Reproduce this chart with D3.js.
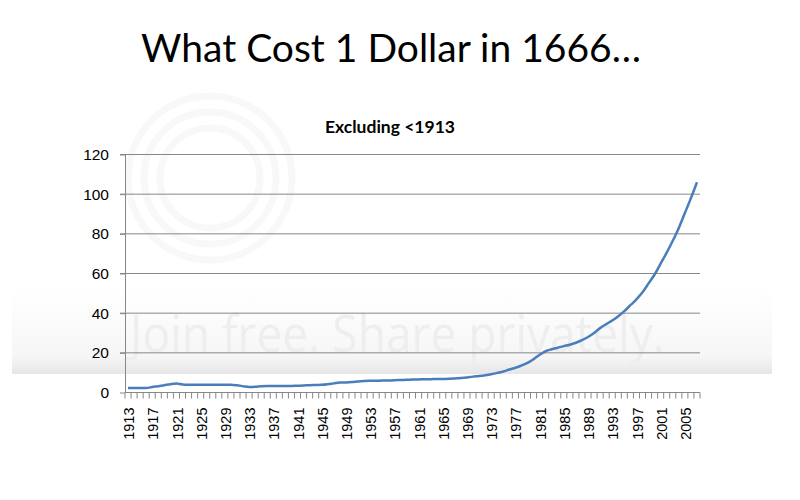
<!DOCTYPE html>
<html>
<head>
<meta charset="utf-8">
<script src="https://cdn.jsdelivr.net/npm/d3@7"></script>
<style>
  body { margin: 0; background: #ffffff; }
  svg { display: block; }
</style>
</head>
<body>
<svg id="chart" width="800" height="500"></svg>
<script>
// Chart data
var years = d3.range(1913, 2008);
var values = [
  2.3, 2.3, 2.3, 2.3, 2.8, 3.2, 3.7, 4.2, 4.5, 4.0,   // 1913-1922
  3.9, 3.9, 3.9, 3.9, 3.9, 3.9, 3.9, 3.9, 3.6, 3.2,   // 1923-1932
  2.8, 2.9, 3.2, 3.3, 3.3, 3.3, 3.3, 3.3, 3.4, 3.5,   // 1933-1942
  3.7, 3.8, 3.9, 4.2, 4.6, 5.0, 5.1, 5.3, 5.6, 5.8,   // 1943-1952
  5.9, 5.9, 6.0, 6.0, 6.2, 6.3, 6.4, 6.5, 6.6, 6.7,   // 1953-1962
  6.7, 6.8, 6.8, 6.9, 7.1, 7.3, 7.6, 8.0, 8.3, 8.7,   // 1963-1972
  9.2, 9.9, 10.6, 11.6, 12.5, 13.6, 14.9, 16.8, 19.0, 20.8, // 1973-1982
  21.8, 22.6, 23.4, 24.1, 25.1, 26.4, 28.0, 30.0, 32.5, 34.5, // 1983-1992
  36.3, 38.5, 41.0, 44.0, 47.0, 50.5, 55.0, 59.5, 65.0, 70.5, // 1993-2002
  76.5, 83.0, 90.5, 98.0, 106.0                          // 2003-2007
];
var yTicks = [0, 20, 40, 60, 80, 100, 120];
var xLabels = years.filter(function(d) { return (d - 1913) % 4 == 0; });

var title = "What Cost 1 Dollar in 1666\u2026";
var subtitle = "Excluding <1913";

var svg = d3.select("svg"),
    width = +svg.attr("width"),
    height = +svg.attr("height");

var gridColor = "#878787";
var lineColor = "#4a7ebb";

// Faint photobucket watermark behind the chart
var wm = svg.append("g").attr("class", "watermark");
var grad = svg.append("defs").append("linearGradient")
    .attr("id", "band").attr("x1", 0).attr("y1", 0).attr("x2", 0).attr("y2", 1);
grad.append("stop").attr("offset", "0%").attr("stop-color", "#ffffff");
grad.append("stop").attr("offset", "80%").attr("stop-color", "#f6f6f6");
grad.append("stop").attr("offset", "100%").attr("stop-color", "#e6e6e6");
wm.append("rect")
    .attr("x", 12).attr("y", 288)
    .attr("width", 760).attr("height", 86)
    .attr("fill", "url(#band)");
wm.append("text")
    .attr("x", 130).attr("y", 352)
    .attr("font-family", "'Open Sans', sans-serif")
    .attr("font-size", 52)
    .attr("textLength", 535)
    .attr("lengthAdjust", "spacingAndGlyphs")
    .attr("fill", "#eeeeee")
    .text("Join free. Share privately.");
[82, 66, 50].forEach(function(r) {
  wm.append("circle")
      .attr("cx", 210).attr("cy", 178).attr("r", r)
      .attr("fill", "none")
      .attr("stroke", "#f8f8f8")
      .attr("stroke-width", 7);
});

// Titles
svg.append("text")
    .attr("x", 391)
    .attr("y", 62)
    .attr("text-anchor", "middle")
    .attr("font-family", "Lato, 'Open Sans', sans-serif")
    .attr("font-size", 39)
    .attr("fill", "#000")
    .text(title);

svg.append("text")
    .attr("x", 390)
    .attr("y", 133)
    .attr("text-anchor", "middle")
    .attr("font-family", "Lato, 'Open Sans', sans-serif")
    .attr("font-weight", "bold")
    .attr("font-size", 17.5)
    .attr("fill", "#000")
    .text(subtitle);

// Scales
var x = d3.scaleBand()
    .domain(years)
    .range([125, 700])
    .padding(0);

var y = d3.scaleLinear()
    .domain([0, 120])
    .range([392.5, 154.5]);

// Gridlines
svg.append("g")
    .attr("class", "grid")
  .selectAll("line")
  .data(yTicks.filter(function(d) { return d > 0; }))
  .enter().append("line")
    .attr("x1", 120)
    .attr("x2", 700)
    .attr("y1", function(d) { return y(d); })
    .attr("y2", function(d) { return y(d); })
    .attr("stroke", gridColor)
    .attr("stroke-width", 1);

// Y axis
var yAxis = svg.append("g")
    .attr("transform", "translate(125,0)")
    .call(d3.axisLeft(y).tickValues(yTicks).tickSize(5).tickSizeOuter(0).tickPadding(11));
yAxis.selectAll("line, path").attr("stroke", gridColor);
yAxis.selectAll("text")
    .attr("font-family", "'Liberation Sans', Arial, sans-serif")
    .attr("font-size", 15.5)
    .attr("fill", "#000");

// X axis: ticks between categories, labels every 4 years
var xAxis = svg.append("g").attr("class", "x-axis");
xAxis.append("line")
    .attr("x1", 125).attr("x2", 700)
    .attr("y1", y(0)).attr("y2", y(0))
    .attr("stroke", gridColor);
xAxis.selectAll("line.tick")
  .data(years.concat([2008]))
  .enter().append("line")
    .attr("class", "tick")
    .attr("x1", function(d) { return d == 2008 ? x.range()[1] : x(d); })
    .attr("x2", function(d) { return d == 2008 ? x.range()[1] : x(d); })
    .attr("y1", y(0))
    .attr("y2", y(0) + 6)
    .attr("stroke", gridColor);
xAxis.selectAll("text")
  .data(xLabels)
  .enter().append("text")
    .attr("transform", function(d) {
      return "translate(" + (x(d) + x.bandwidth() / 2 + 1) + "," + (y(0) + 15) + ") rotate(-90)";
    })
    .attr("text-anchor", "end")
    .attr("dy", "0.35em")
    .attr("font-family", "'Liberation Sans', Arial, sans-serif")
    .attr("font-size", 14.5)
    .attr("fill", "#000")
    .text(function(d) { return d; });

// The series line
var line = d3.line()
    .x(function(d, i) { return x(years[i]) + x.bandwidth() / 2; })
    .y(function(d) { return y(d); })
    .curve(d3.curveMonotoneX);

svg.append("path")
    .datum(values)
    .attr("fill", "none")
    .attr("stroke", lineColor)
    .attr("stroke-width", 2.5)
    .attr("d", line);
</script>
</body>
</html>
